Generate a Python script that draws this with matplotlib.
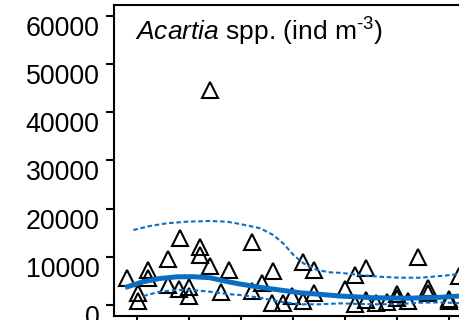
import matplotlib
matplotlib.use("Agg")
import matplotlib.pyplot as plt

plt.rcParams["font.family"] = ["Liberation Sans", "DejaVu Sans"]
plt.rcParams["mathtext.fontset"] = "custom"
plt.rcParams["mathtext.rm"] = "Liberation Sans"
plt.rcParams["mathtext.it"] = "Liberation Sans:italic"

# observed abundances (ind m^-3)
obs_x = [0.80, 1.01, 1.01, 1.22, 1.21, 1.60, 1.82, 1.60, 1.80, 2.00, 2.00,
         2.21, 2.21, 2.40, 2.61, 2.77, 2.40, 3.21, 3.21, 3.41, 3.61, 3.60,
         3.80, 3.99, 4.20, 4.40, 4.40, 4.20, 5.00, 5.20, 5.40, 5.20, 5.40,
         5.60, 5.81, 6.00, 6.00, 6.22, 6.40, 6.60, 6.60, 7.00, 7.00, 7.19]
obs_y = [5540, 2430, 790, 7260, 5600, 9540, 13900, 4250, 3420, 3800, 1870,
         12130, 10470, 8030, 2760, 7260, 44590, 13070, 3010, 4500, 6990, 480,
         520, 1870, 8980, 7320, 2450, 830, 3420, 6160, 7610, 310, 1040,
         420, 620, 2280, 1490, 830, 9890, 3460, 2430, 1290, 830, 6010]

# smoothed trend with its confidence band
fit_x = [0.77, 1.12, 1.44, 1.77, 2.08, 2.40, 2.73, 2.98, 3.37, 3.75, 4.13,
         4.52, 4.90, 5.54, 6.19, 6.83, 7.25]
fit_y = [3630, 4830, 5500, 5850, 5870, 5660, 4870, 4360, 3670, 3110, 2550,
         2220, 1870, 1510, 1410, 1600, 1900]

upper_x = [0.93, 1.25, 1.57, 1.96, 2.40, 2.73, 2.98, 3.37, 3.62, 3.81, 4.01,
           4.20, 4.46, 4.71, 4.90, 5.29, 5.67, 6.06, 6.44, 6.83, 7.25]
upper_y = [15550, 16380, 16940, 17280, 17420, 17280, 16800, 15910, 14520,
           12800, 10370, 8650, 7260, 6780, 6680, 6220, 5870, 5660, 5660,
           6010, 6470]

lower_x = [1.12, 1.44, 1.76, 2.08, 2.40, 2.73, 2.98, 3.37, 3.75, 4.13, 4.52,
           4.90, 5.29, 5.67, 6.06, 6.44, 6.83, 7.25]
lower_y = [1870, 2760, 3110, 3110, 2760, 2280, 2070, 1510, 690, 150, 150,
           350, 210, 150, 210, 480, 560, 350]

yticks = [0, 10000, 20000, 30000, 40000, 50000, 60000]
xticks = [1, 2, 3, 4, 5, 6, 7]
title_text = r"$\mathit{Acartia}$ spp. (ind m$^{\text{-}3}$)"

blue = "#0a6fc4"

fig = plt.figure(figsize=(4.6, 3.2), dpi=100)
ax = fig.add_axes([114 / 460, 4.5 / 320, 387 / 460, 311 / 320])

ax.plot(obs_x, obs_y, linestyle="none", marker="^", markersize=11,
        markerfacecolor="none", markeredgecolor="black",
        markeredgewidth=1.5, zorder=2)
ax.plot(fit_x, fit_y, color=blue, lw=3.6, solid_capstyle="butt", zorder=3)
for bx, by in ((upper_x, upper_y), (lower_x, lower_y)):
    ax.plot(bx, by, color=blue, lw=1.5, dashes=(2.2, 1.3), zorder=3)

ax.set_xlim(0.558, 8.0)
ax.set_ylim(-2170, 62300)
ax.set_yticks(yticks)
ax.set_yticklabels([str(t) for t in yticks])
ax.set_xticks(xticks)
ax.set_xticklabels([])
ax.tick_params(axis="both", direction="out", length=6, width=1.5,
               labelsize=19.3, pad=4.3, color="black")
for lab in ax.get_yticklabels():
    lab.set_verticalalignment("top")
for sp in ax.spines.values():
    sp.set_linewidth(1.5)

ax.text(0.0543, 0.883, title_text, transform=ax.transAxes, fontsize=19,
        ha="left", va="baseline")

fig.savefig("out.png", dpi=100)
